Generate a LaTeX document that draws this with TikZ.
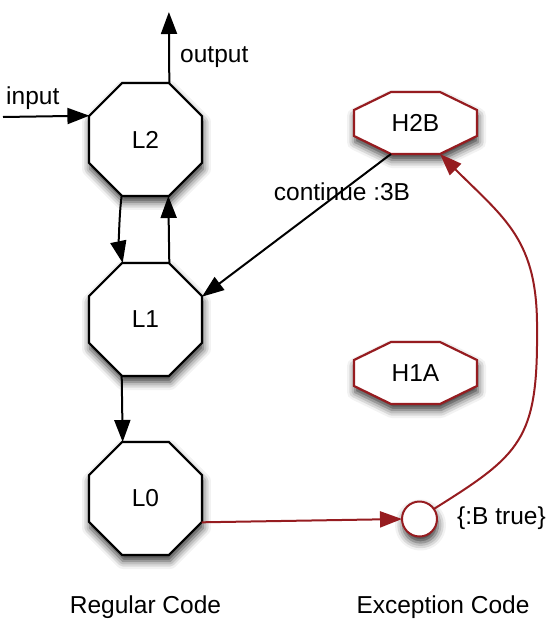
\documentclass[tikz,border=0pt]{standalone}
\usepackage{fontspec}
\setmainfont{Liberation Sans}
\usetikzlibrary{shapes.geometric,arrows.meta,shadows.blur,calc}
\definecolor{exred}{RGB}{150,28,32}
\newcommand\hoctpath[1]{($(#1)+(-24.5,-31)$) -- ($(#1)+(24.5,-31)$) -- ($(#1)+(61.5,-13)$) -- ($(#1)+(61.5,13)$) -- ($(#1)+(24.5,31)$) -- ($(#1)+(-24.5,31)$) -- ($(#1)+(-61.5,13)$) -- ($(#1)+(-61.5,-13)$) -- cycle}
\begin{document}
\begin{tikzpicture}[x=1pt,y=-1pt,
  every node/.style={font=\fontsize{24.5}{29}\selectfont},
  myshadow/.style={blur shadow={shadow xshift=1pt, shadow yshift=-6pt, shadow blur radius=8pt, shadow opacity=80}},
  loct/.style={regular polygon, regular polygon sides=8, minimum size=122.3pt, draw=black, line width=2.2pt, fill=white, inner sep=0pt, outer sep=0pt, myshadow},
  hbox/.style={minimum width=123pt, minimum height=62pt, inner sep=0pt, outer sep=0pt},
  hoct/.style={draw=exred, line width=2.2pt, fill=white, myshadow},
  mytip/.tip={Triangle[length=22pt,width=16pt]},
  conn/.style={draw=black, line width=2pt, -mytip},
  rconn/.style={draw=exred, line width=2pt, -mytip},
  lbl/.style={inner sep=0pt}
]
\useasboundingbox (0,0) rectangle (550,621);

% regular code nodes
\node[loct] (L2) at (145.5,139.5) {L2};
\node[loct] (L1) at (145.5,319.5) {L1};
\node[loct] (L0) at (145.5,498.5) {L0};

% exception handlers
\coordinate (h2c) at (415.5,123);
\coordinate (h1c) at (415.5,373);
\filldraw[hoct] \hoctpath{h2c};
\filldraw[hoct] \hoctpath{h1c};
\node[hbox] (H2B) at (h2c) {H2B};
\node[hbox] (H1A) at (h1c) {H1A};

\node[circle, draw=exred, line width=2pt, fill=white, minimum size=35pt, inner sep=0pt, outer sep=0pt, myshadow] (ex) at (419.5,519) {};

% free ends
\coordinate (in) at (3,117);
\coordinate (out) at (168.9,12);
\coordinate (via) at (537,330);

% labels
\node[lbl, anchor=west] (linput) at (6,98) {input};
\node[lbl, anchor=west] (loutput) at (180,57) {output};
\node[lbl] (lcont) at (342,192) {continue :3B};
\node[lbl, anchor=west] (lbt) at (457,518) {\{:B true\}};
\node[lbl] (lreg) at (145.5,607) {Regular Code};
\node[lbl] (lexc) at (443,607) {Exception Code};

% connectors
\draw[conn] (in) -- (L2.157.5);
\draw[conn] (L2.67.5) -- (out);
\draw[conn] (L2.247.5) .. controls (119,215) and (119,245) .. (L1.112.5);
\draw[conn] (L1.67.5) -- (L2.292.5);
\draw[conn] (L1.247.5) -- (L0.112.5);
\draw[conn] ($(H2B.south west)+(37,0)$) -- (L1.22.5);
\draw[rconn] (L0.337.5) -- (ex.west);
\draw[rconn] (ex.35) .. controls (520,455) and (538,440) .. (via) .. controls (538,240) and (505,219) .. ($(H2B.south east)+(-37,0)$);
\end{tikzpicture}
\end{document}
